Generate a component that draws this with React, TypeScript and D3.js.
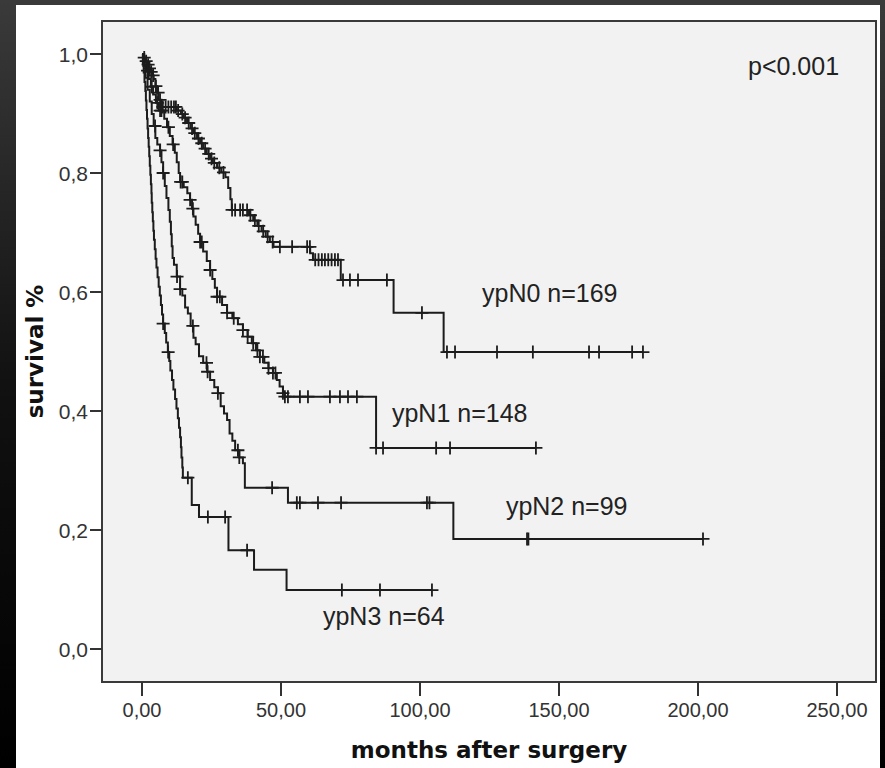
import React from "react";
import * as d3 from "d3";

// ---- data ----
const xTicks = [0, 50, 100, 150, 200, 250];
const yTicks = [0, 0.2, 0.4, 0.6, 0.8, 1.0];
const xTitle = "months after surgery";
const yTitle = "survival %";
const pText = "p<0.001";

const seriesNames = ["ypN0 n=169", "ypN1 n=148", "ypN2 n=99", "ypN3 n=64"];

// [time, survival after event]
const ypN0Steps: [number, number][] = [
  [0.6, 0.994], [1.2, 0.988], [1.8, 0.982], [2.4, 0.976], [3, 0.97], [3.6, 0.964], [4.2, 0.958],
  [4.8, 0.946], [5.4, 0.935], [6, 0.923], [7, 0.911], [12.5, 0.905], [14, 0.899], [15, 0.893],
  [16.2, 0.884], [17.5, 0.875], [18.5, 0.867], [19.8, 0.858], [20.9, 0.85], [22, 0.841],
  [23.3, 0.832], [24.5, 0.824], [25.5, 0.817], [27, 0.809], [28.5, 0.801], [30, 0.793],
  [31, 0.775], [31.8, 0.756], [32.3, 0.738], [38.5, 0.729], [40, 0.72], [41.5, 0.711],
  [43, 0.702], [44.5, 0.693], [46, 0.684], [47.3, 0.676], [60.5, 0.665], [61.5, 0.654],
  [71.5, 0.62], [90.5, 0.565], [108.5, 0.499],
];
const ypN0Censored = [
  0.8, 1.5, 2.2, 2.7, 3.3, 4, 5, 5.8, 6.5, 7.5, 8.5, 9.5, 10.5, 11.5, 12.2, 13, 14.5, 15.5,
  16.8, 18, 19, 20.3, 21.5, 22.7, 24, 25, 26, 27.8, 29.3, 32.4, 33.5, 35.3, 36.3, 37.8, 39,
  40.6, 42, 43.6, 45.2, 47, 49.6, 54, 59.4, 60.4, 62.3, 63.5, 64.7, 65.8, 67, 68.2, 69.4, 70.5,
  72.3, 74.8, 77.7, 88.1, 100.7, 109.7, 112.6, 127.7, 140.6, 160.8, 164.4, 176.3, 180.2,
];

const ypN1Steps: [number, number][] = [
  [0.8, 0.986], [1.6, 0.972], [2.4, 0.958], [3.2, 0.945], [4, 0.932], [5, 0.918], [6, 0.905],
  [8, 0.891], [9, 0.877], [10, 0.862], [11, 0.848], [11.8, 0.834], [12.5, 0.818], [13.2, 0.8],
  [13.7, 0.785], [15, 0.776], [16.3, 0.766], [17.3, 0.755], [18, 0.74], [18.5, 0.727],
  [19.3, 0.713], [20.2, 0.698], [20.9, 0.684], [22, 0.668], [23.3, 0.652], [24.5, 0.637],
  [25.3, 0.622], [26.2, 0.607], [27, 0.592], [28.8, 0.578], [30.6, 0.565], [32.5, 0.556],
  [34.5, 0.546], [36.3, 0.536], [38, 0.525], [39.5, 0.514], [41, 0.502], [42.4, 0.491],
  [44, 0.481], [45.5, 0.472], [47.1, 0.464], [48.5, 0.452], [49.5, 0.441], [50.7, 0.43],
  [51.3, 0.424], [84.2, 0.338],
];
const ypN1Censored = [
  2, 3.5, 5.5, 6.5, 7, 9.5, 11.2, 13.9, 14.5, 17.3, 18.3, 20.9, 21.5, 24.5, 27, 28, 30.6, 33,
  36.3, 38, 40, 41.5, 42.4, 43.5, 45.5, 47.1, 48, 50.7, 51.4, 52.5, 56.8, 59.7, 67.6, 71.2,
  74.1, 77.3, 84.2, 86.7, 105.8, 110.8, 141.7,
];

const ypN2Steps: [number, number][] = [
  [0.5, 0.98], [1.2, 0.96], [2, 0.94], [2.8, 0.92], [3.5, 0.899], [4.2, 0.879], [4.8, 0.859],
  [5.5, 0.848], [6.5, 0.838], [7, 0.818], [7.6, 0.8], [8.2, 0.778], [8.8, 0.758], [9.5, 0.738],
  [10, 0.718], [10.4, 0.697], [10.7, 0.677], [11, 0.657], [11.5, 0.646], [12.5, 0.626],
  [13.7, 0.605], [14.5, 0.594], [15.5, 0.574], [16.5, 0.564], [17.5, 0.543], [18.5, 0.523],
  [19.3, 0.512], [20.5, 0.492], [22, 0.481], [23.4, 0.466], [24.5, 0.452], [26, 0.44],
  [27.3, 0.43], [28.3, 0.408], [29.5, 0.396], [30.6, 0.385], [31.5, 0.362], [32.5, 0.35],
  [33.5, 0.334], [35, 0.322], [36.3, 0.312], [37, 0.271], [52.5, 0.246], [112, 0.185],
];
const ypN2Censored = [
  4.7, 6.5, 7.6, 12.6, 13.7, 18.3, 23.2, 23.6, 27.3, 34.5, 35, 46.8, 55.7, 56.8, 63.3, 71.6,
  102.5, 103.4, 138.5, 139, 201.8,
];

const ypN3Steps: [number, number][] = [
  [0.3, 0.984], [0.6, 0.969], [0.9, 0.953], [1.2, 0.938], [1.4, 0.922], [1.6, 0.906],
  [1.8, 0.891], [2, 0.875], [2.2, 0.859], [2.4, 0.844], [2.6, 0.828], [2.8, 0.812], [3, 0.797],
  [3.2, 0.781], [3.4, 0.766], [3.5, 0.75], [3.7, 0.734], [3.9, 0.719], [4.1, 0.703],
  [4.3, 0.688], [4.6, 0.672], [4.9, 0.656], [5.2, 0.641], [5.6, 0.625], [6, 0.609],
  [6.4, 0.594], [6.8, 0.578], [7.2, 0.562], [7.6, 0.547], [8.2, 0.531], [8.7, 0.515],
  [9.3, 0.499], [9.8, 0.484], [10.2, 0.468], [10.8, 0.452], [11.3, 0.436], [11.9, 0.42],
  [12.4, 0.404], [12.9, 0.388], [13.3, 0.372], [13.7, 0.356], [14, 0.339], [14.2, 0.322],
  [14.5, 0.305], [14.7, 0.288], [17.9, 0.242], [20.5, 0.222], [31.1, 0.166], [40.3, 0.133],
  [52, 0.099],
];
const ypN3Censored = [7.6, 9.4, 16.5, 23.7, 29.9, 37.8, 71.9, 85.6, 104.3];

const allSteps = [ypN0Steps, ypN1Steps, ypN2Steps, ypN3Steps];
const allCensored = [ypN0Censored, ypN1Censored, ypN2Censored, ypN3Censored];

// ---- layout ----
const W = 885;
const H = 768;
const box = { left: 102, top: 21, right: 876, bottom: 682 };
const labelPos: [number, number][] = [
  [122.3, 0.583],
  [89.9, 0.3815],
  [130.9, 0.225],
  [65.1, 0.04],
];

const x = d3.scaleLinear().domain([0, 250]).range([142, 837]);
const y = d3.scaleLinear().domain([0, 1]).range([649, 54]);

const commaFmt = (f: string) => (v: number) => d3.format(f)(v).replace(".", ",");
const fx = commaFmt(".2f");
const fy = commaFmt(".1f");

function survivalAt(steps: [number, number][], t: number) {
  let s = 1;
  for (const [tt, ss] of steps) {
    if (tt <= t) s = ss;
    else break;
  }
  return s;
}

const stepLine = d3
  .line<[number, number]>()
  .x((d) => x(d[0]))
  .y((d) => y(d[1]))
  .curve(d3.curveStepAfter);

const INK = "#1c1c1c";
const SANS = "'Liberation Sans', Arial, sans-serif";
const BOLD = "'DejaVu Sans', Verdana, sans-serif";

export default function App() {
  const arm = 6.5;
  return (
    <svg
      width={W}
      height={H}
      style={{ position: "absolute", left: 0, top: 0 }}
      xmlns="http://www.w3.org/2000/svg"
    >
      <defs>
        <linearGradient id="frame" x1="0" y1="0" x2="0" y2="1">
          <stop offset="0" stopColor="#3a3a3a" />
          <stop offset="0.5" stopColor="#111" />
          <stop offset="1" stopColor="#000" />
        </linearGradient>
      </defs>
      <rect x={0} y={0} width={W} height={H} fill="url(#frame)" />
      <rect x={16} y={5} width={864} height={H - 5} fill="#ffffff" />

      {/* plot box */}
      <rect
        x={box.left}
        y={box.top}
        width={box.right - box.left}
        height={box.bottom - box.top}
        fill="#f2f2f2"
        stroke="#3a3a3a"
        strokeWidth={2}
      />

      {/* y axis ticks */}
      {yTicks.map((v) => (
        <g key={"y" + v}>
          <line x1={90} x2={box.left} y1={y(v)} y2={y(v)} stroke="#333" strokeWidth={2} />
          <text
            x={88}
            y={y(v) + 8}
            textAnchor="end"
            fontFamily={SANS}
            fontSize={21}
            fill="#333"
          >
            {fy(v)}
          </text>
        </g>
      ))}

      {/* x axis ticks */}
      {xTicks.map((v) => (
        <g key={"x" + v}>
          <line x1={x(v)} x2={x(v)} y1={box.bottom} y2={696} stroke="#333" strokeWidth={2} />
          <text
            x={x(v)}
            y={717}
            textAnchor="middle"
            fontFamily={SANS}
            fontSize={20}
            fill="#333"
          >
            {fx(v)}
          </text>
        </g>
      ))}

      {/* curves */}
      {allSteps.map((steps, i) => {
        const cens = allCensored[i];
        const end = cens[cens.length - 1];
        const last = steps[steps.length - 1][1];
        const pts: [number, number][] = [[0, 1], ...steps, [end, last]];
        return (
          <g key={"s" + i}>
            <path d={stepLine(pts) || ""} fill="none" stroke={INK} strokeWidth={2} />
            {cens.map((t, j) => {
              const cx = x(t);
              const cy = y(survivalAt(steps, t));
              return (
                <path
                  key={j}
                  d={`M${cx - arm},${cy}H${cx + arm}M${cx},${cy - arm}V${cy + arm}`}
                  stroke={INK}
                  strokeWidth={1.8}
                  fill="none"
                />
              );
            })}
          </g>
        );
      })}

      {/* series labels */}
      {seriesNames.map((name, i) => (
        <text
          key={name}
          x={x(labelPos[i][0])}
          y={y(labelPos[i][1])}
          fontFamily={SANS}
          fontSize={25}
          fill="#222"
        >
          {name}
        </text>
      ))}

      <text x={748} y={75} fontFamily={SANS} fontSize={25} fill="#222">
        {pText}
      </text>

      {/* axis titles */}
      <text
        x={(box.left + box.right) / 2}
        y={758}
        textAnchor="middle"
        fontFamily={BOLD}
        fontWeight="bold"
        fontSize={23}
        fill="#111"
      >
        {xTitle}
      </text>
      <text
        transform={`translate(43, ${(box.top + box.bottom) / 2}) rotate(-90)`}
        textAnchor="middle"
        fontFamily={BOLD}
        fontWeight="bold"
        fontSize={23}
        fill="#111"
      >
        {yTitle}
      </text>
    </svg>
  );
}
